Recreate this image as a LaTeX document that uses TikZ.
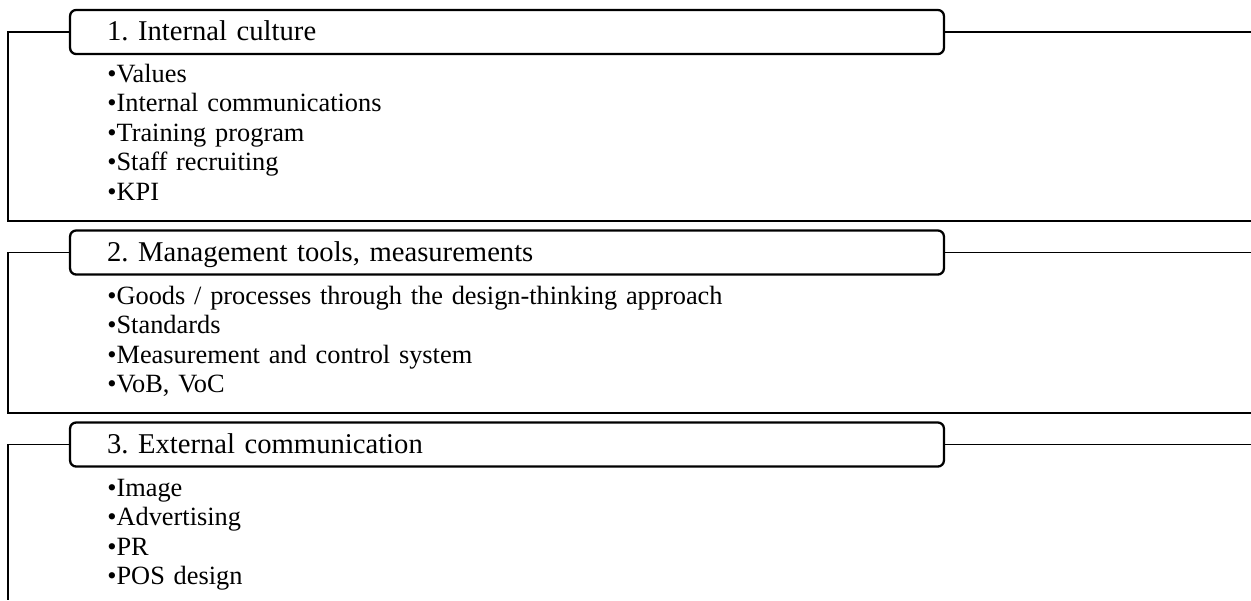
\documentclass[tikz,border=0pt]{standalone}
\usepackage{fontspec}
\setmainfont{Liberation Serif}
\usepackage{tikz}
\usetikzlibrary{positioning, calc}
\frenchspacing

\begin{document}
\begin{tikzpicture}[
    x=0.02cm, y=-0.02cm,
    head/.style={rectangle, rounded corners=0.12cm, draw=black, line width=1.3pt, minimum width=17.48cm, minimum height=0.88cm, text width=16cm, inner xsep=0.74cm, align=left, text height=0.35cm, text depth=0cm, font=\fontsize{16.3}{19}\selectfont},
    items/.style={anchor=base west, inner sep=0pt, text width=16cm, align=left, font=\fontsize{15}{16.84}\selectfont},
    link/.style={line width=1.1pt, black}
]
    \useasboundingbox (0,0) rectangle (1251,600);

    \node[head] (culture) at (507,32) {1. Internal culture};
    \node[items] (cultureList) at (107,82) {\textbullet Values\\\textbullet Internal communications\\\textbullet Training program\\\textbullet Staff recruiting\\\textbullet KPI};

    \node[head] (tools) at (507,252.5) {2. Management tools, measurements};
    \node[items] (toolsList) at (107,304) {\textbullet Goods / processes through the design-thinking approach\\\textbullet Standards\\\textbullet Measurement and control system\\\textbullet VoB, VoC};

    \node[head] (extcom) at (507,444.5) {3. External communication};
    \node[items] (extcomList) at (107,496) {\textbullet Image\\\textbullet Advertising\\\textbullet PR\\\textbullet POS design};

    \coordinate (cultureEnd) at (8,221);
    \coordinate (cultureEdge) at (1251,221);
    \coordinate (toolsEnd) at (8,413);
    \coordinate (toolsEdge) at (1251,413);
    \coordinate (extcomEnd) at (8,600);

    \draw[link] (culture.west) -| (cultureEnd) -- (cultureEdge);
    \draw[link] (culture.east) -- (culture.east -| cultureEdge);
    \draw[link] (tools.west) -| (toolsEnd) -- (toolsEdge);
    \draw[link] (tools.east) -- (tools.east -| toolsEdge);
    \draw[link] (extcom.west) -| (extcomEnd);
    \draw[link] (extcom.east) -- (extcom.east -| toolsEdge);
\end{tikzpicture}
\end{document}
